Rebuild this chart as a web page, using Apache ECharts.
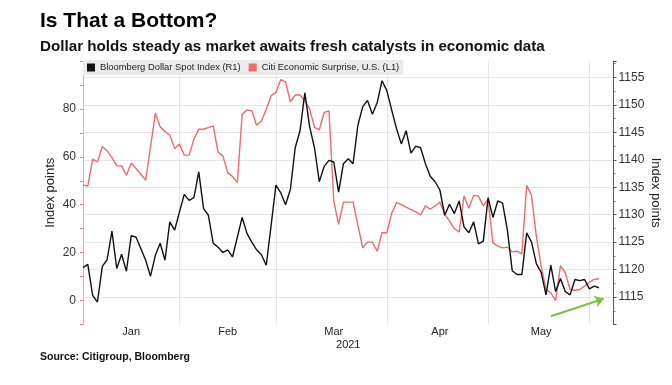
<!DOCTYPE html>
<html><head><meta charset="utf-8">
<script src="https://cdn.jsdelivr.net/npm/echarts@6/dist/echarts.min.js"></script>
<style>html,body{margin:0;padding:0;background:#fff}#c{width:672px;height:385px}</style>
</head><body><div id="c"></div>
<script>
// ---- data ----
const firstDay = '2021-01-04';
const lastDay = '2021-06-08';
const skipDays = ['2021-04-02'];
const seriesNames = ['Bloomberg Dollar Spot Index (R1)', 'Citi Economic Surprise, U.S. (L1)'];
const dollarIndex = [1120.35,1120.95,1115.3,1114.1,1120.6,1121.8,1127,1120.2,1122.8,1119.7,
  1126.2,1125.9,1123.8,1121.7,1118.8,1122.6,1124.8,1121.7,1128.7,1127.2,
  1130.5,1133.7,1132.6,1133.1,1137.8,1131.1,1129.9,1124.8,1124.1,1123.1,
  1123.6,1122.3,1125.9,1129.5,1126.6,1125,1123.6,1122.7,1120.8,1128,
  1135.4,1134,1131.8,1134.6,1142.2,1145.3,1152.2,1146,1142.2,1136,
  1138.8,1139.9,1139.6,1134.1,1139.3,1140.2,1139.3,1146.3,1149.7,1150.8,
  1148.3,1150.4,1154.4,1152.6,1149.1,1145.7,1142.9,1145.3,1141.2,1142.5,
  1142.2,1139.3,1137,1136,1134.5,1129.9,1131.9,1130.2,1132.5,1127.8,
  1126.7,1128.7,1124.7,1125.2,1133.1,1129.5,1132.5,1132.1,1127.2,1119.8,
  1119.1,1119.1,1126.7,1125,1121.1,1119.5,1115.4,1120.8,1116,1118.4,
  1116,1115.4,1118.2,1118,1118.2,1116.5,1117,1116.7];
const citiSurprise = [48.2,47.8,59,57.9,64.3,62.5,59.7,56.2,56.2,52.3,
  57.3,55.1,52.7,50.3,64,78.2,72.5,70.6,69,63.5,
  65.3,60.7,60.7,67.4,71.5,71.5,72.2,72.9,62,60.4,
  53.4,51.8,49.2,77.8,79.6,79.2,73.2,75,79.9,85.5,
  86.9,92.2,91.3,83,85.8,85.8,83.4,79.9,72.3,71.3,
  78.5,79.2,41.5,31.8,41.1,41.1,41.1,31.5,22,24.4,
  24.4,20.6,28.3,28.3,36.4,40.9,40,39,38,37,
  35.7,39.5,38.1,39.5,41.1,36,33.2,30,28.6,43.6,
  38.5,43.9,43.6,39.5,42.3,24.1,22.7,22,22.3,20.3,
  20.6,19.5,48.1,43.9,26.9,14.4,4.6,3.2,0.1,14.6,
  11.6,4.6,4.3,4.6,6,7.7,8.8,9.1];
const monthLabels = ['Jan','Feb','Mar','Apr','May'];
const monthLabelDates = ['2021-01-18','2021-02-15','2021-03-17','2021-04-19','2021-05-18'];
const monthStartDates = ['2021-02-01','2021-03-01','2021-04-01','2021-05-03','2021-06-01'];
const yearLabel = '2021';
const leftTickLabels = [0,20,40,60,80];
const rightTickLabels = [1115,1120,1125,1130,1135,1140,1145,1150,1155];
const arrowFrom = ['2021-05-20', 1111.5];
const arrowTo = ['2021-06-04', 1114.7];

// ---- categories: business days ----
const dates = [];
for (let d = new Date(firstDay + 'T00:00:00Z'); d <= new Date(lastDay + 'T00:00:00Z'); d.setUTCDate(d.getUTCDate() + 1)) {
  const wd = d.getUTCDay();
  const s = d.toISOString().slice(0, 10);
  if (wd !== 0 && wd !== 6 && skipDays.indexOf(s) < 0) dates.push(s);
}

const FONT = '"Liberation Sans", Arial, sans-serif';
const chart = echarts.init(document.getElementById('c'), null, {renderer: 'canvas'});
chart.setOption({
  animation: false,
  backgroundColor: '#fff',
  textStyle: {fontFamily: FONT},
  title: [
    {text: 'Is That a Bottom?', left: 40, top: 11, padding: 0,
     textStyle: {fontSize: 21, fontWeight: 'bold', color: '#000', fontFamily: FONT}},
    {text: 'Dollar holds steady as market awaits fresh catalysts in economic data', left: 40, top: 39, padding: 0,
     textStyle: {fontSize: 15.2, fontWeight: 'bold', color: '#111', fontFamily: FONT}},
    {text: 'Source: Citigroup, Bloomberg', left: 40, top: 352, padding: 0,
     textStyle: {fontSize: 10.5, fontWeight: 'bold', color: '#111', fontFamily: FONT}}
  ],
  legend: {
    data: seriesNames, left: 83, top: 60, orient: 'horizontal',
    backgroundColor: '#ebebeb', padding: [3, 4, 3, 4], itemGap: 8,
    itemWidth: 8, itemHeight: 8, icon: 'rect', selectedMode: false,
    textStyle: {fontSize: 9.4, color: '#222', fontFamily: FONT}
  },
  grid: {left: 83, right: 58.5, top: 61, bottom: 60.5, containLabel: false, outerBoundsMode: 'none'},
  xAxis: {
    type: 'category', data: dates, boundaryGap: false,
    name: yearLabel, nameLocation: 'middle', nameGap: 15, nameMoveOverlap: false,
    nameTextStyle: {fontSize: 11, color: '#222', fontFamily: FONT},
    axisLine: {show: false}, axisTick: {show: false},
    axisLabel: {
      interval: (i, v) => monthLabelDates.indexOf(v) >= 0,
      formatter: v => monthLabels[monthLabelDates.indexOf(v)] || '',
      fontSize: 11, color: '#222', margin: 2, fontFamily: FONT
    },
    splitLine: {show: true, interval: (i, v) => monthStartDates.indexOf(v) >= 0,
      lineStyle: {color: '#e6e6e6', width: 1}}
  },
  yAxis: [
    {
      type: 'value', position: 'left', min: -10, max: 100, interval: 10,
      name: 'Index points', nameLocation: 'middle', nameGap: 26, nameRotate: 90, nameMoveOverlap: false,
      nameTextStyle: {fontSize: 13, color: '#222', fontFamily: FONT},
      axisLine: {show: true, lineStyle: {color: '#f2a9a9', width: 1}},
      axisTick: {show: true, length: 3, lineStyle: {color: '#f08080'}},
      axisLabel: {fontSize: 12, color: '#333', margin: 7, fontFamily: FONT,
        formatter: v => leftTickLabels.indexOf(v) >= 0 ? String(v) : ''},
      splitLine: {show: false}
    },
    {
      type: 'value', position: 'right', min: 1110, max: 1158, interval: 5,
      name: 'Index points', nameLocation: 'middle', nameGap: 36, nameRotate: -90, nameMoveOverlap: false,
      nameTextStyle: {fontSize: 13, color: '#222', fontFamily: FONT},
      axisLine: {show: true, lineStyle: {color: '#555', width: 1}},
      axisTick: {show: true, length: 3, lineStyle: {color: '#555'}},
      minorTick: {show: true, splitNumber: 2, length: 2, lineStyle: {color: '#777'}},
      axisLabel: {fontSize: 12, color: '#333', margin: 5, fontFamily: FONT,
        formatter: v => rightTickLabels.indexOf(v) >= 0 ? String(v) : ''},
      splitLine: {show: true, showMinLine: false, showMaxLine: false, lineStyle: {color: '#e6e6e6', width: 1}}
    }
  ],
  series: [
    {
      name: seriesNames[1], type: 'line', yAxisIndex: 0, data: citiSurprise,
      showSymbol: false, symbol: 'none', z: 2,
      lineStyle: {color: '#f06b6b', width: 1.4}, itemStyle: {color: '#f06b6b'},
      emphasis: {disabled: true}
    },
    {
      name: seriesNames[0], type: 'line', yAxisIndex: 1, data: dollarIndex,
      showSymbol: false, symbol: 'none', z: 3,
      lineStyle: {color: '#111', width: 1.4}, itemStyle: {color: '#111'},
      emphasis: {disabled: true},
      markLine: {
        silent: true, symbol: ['none', 'arrow'], symbolSize: 9,
        label: {show: false},
        lineStyle: {color: '#7cc242', width: 2, type: 'solid'},
        emphasis: {disabled: true},
        data: [[{coord: arrowFrom}, {coord: arrowTo}]]
      }
    }
  ]
});
</script></body></html>
